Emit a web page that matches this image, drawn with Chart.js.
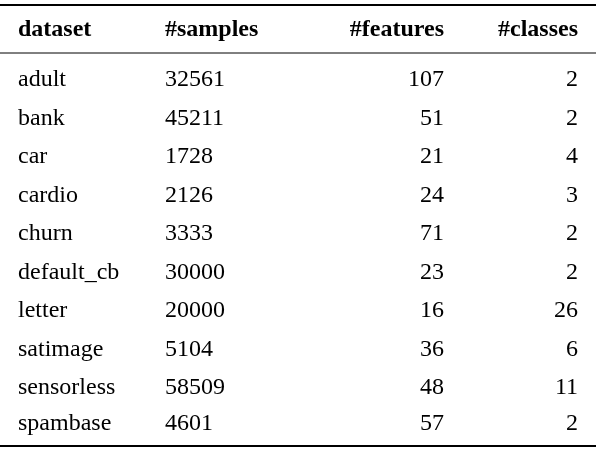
<!DOCTYPE html>
<html><head><meta charset="utf-8">
<script src="https://cdn.jsdelivr.net/npm/chart.js@4"></script>
<style>html,body{margin:0;padding:0;background:#fff}#w{width:596px;height:450px}
.pre{font-family:"Liberation Serif";position:absolute;left:-999px}.preb{font-family:"Liberation Serif";font-weight:bold;position:absolute;left:-999px}</style>
</head><body><span class="pre">a</span><span class="preb">a</span><div id="w"><canvas id="c"></canvas></div>
<script>
const headers = ["dataset", "#samples", "#features", "#classes"];
const datasets = ["adult","bank","car","cardio","churn","default_cb","letter","satimage","sensorless","spambase"];
const samples = [32561,45211,1728,2126,3333,30000,20000,5104,58509,4601];
const features = [107,51,21,24,71,23,16,36,48,57];
const classes = [2,2,4,3,2,2,26,6,11,2];

const colX = [18,165,444,578];
const colAlign = ["left","left","right","right"];
const rowY = [30,80,119,157,196,234,273,311,350,388,424];
const FONT = '"Liberation Serif", "Times New Roman", serif';

const tablePlugin = {
  id:'table',
  afterDraw(chart){
    const ctx = chart.ctx, xs = chart.scales.x, ys = chart.scales.y;
    ctx.save();
    ctx.strokeStyle = '#000';
    [[5,2],[53,1],[446,2]].forEach(([y,w])=>{
      ctx.lineWidth=w; ctx.beginPath();
      ctx.moveTo(xs.getPixelForValue(0), ys.getPixelForValue(y));
      ctx.lineTo(xs.getPixelForValue(596), ys.getPixelForValue(y)); ctx.stroke();
    });
    ctx.fillStyle='#000'; ctx.textBaseline='middle';
    const rows=[headers, ...datasets.map((d,i)=>[d,String(samples[i]),String(features[i]),String(classes[i])])];
    rows.forEach((r,ri)=>{
      ctx.font=(ri===0?'bold ':'')+'24px '+FONT;
      r.forEach((t,ci)=>{
        ctx.textAlign=colAlign[ci];
        ctx.fillText(t, xs.getPixelForValue(colX[ci]), ys.getPixelForValue(rowY[ri]));
      });
    });
    ctx.restore();
  }
};

function make(){
new Chart(document.getElementById('c'),{
  type:'scatter',
  data:{datasets:[{data:[]}]},
  options:{
    responsive:true, maintainAspectRatio:false, animation:false,
    layout:{padding:0},
    plugins:{legend:{display:false},tooltip:{enabled:false}},
    scales:{
      x:{type:'linear',min:0,max:596,display:false},
      y:{type:'linear',min:0,max:450,reverse:true,display:false}
    }
  },
  plugins:[tablePlugin]
});
}
Promise.all([document.fonts.load('24px "Liberation Serif"'),document.fonts.load('bold 24px "Liberation Serif"')]).then(make,make);
</script></body></html>
